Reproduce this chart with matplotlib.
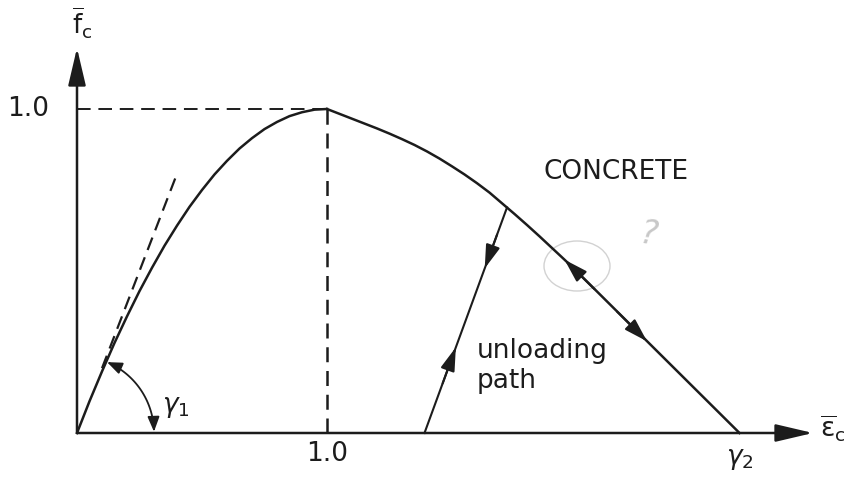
import numpy as np
import matplotlib.pyplot as plt
from matplotlib.patches import FancyArrowPatch, Ellipse
from matplotlib.path import Path

# normalised stress-strain curve for concrete
asc_strain = [0.0, 0.05, 0.1, 0.15, 0.2, 0.25, 0.3, 0.35, 0.4, 0.45, 0.5,
              0.55, 0.6, 0.65, 0.7, 0.75, 0.8, 0.85, 0.9, 0.95, 1.0]
asc_stress = [0.0, 0.098, 0.19, 0.278, 0.36, 0.438, 0.51, 0.578, 0.64, 0.698, 0.75,
              0.798, 0.84, 0.878, 0.91, 0.938, 0.96, 0.978, 0.99, 0.998, 1.0]
desc_strain = [1.0, 1.05, 1.1, 1.15, 1.2, 1.25, 1.3, 1.35, 1.4, 1.45, 1.5, 1.55,
               1.6, 1.65, 1.7, 1.75, 1.8, 1.85, 1.9, 1.95, 2.0, 2.65]
desc_stress = [1.0, 0.985, 0.97, 0.955, 0.94, 0.924, 0.907, 0.889, 0.869, 0.847, 0.823, 0.798,
               0.771, 0.742, 0.709, 0.676, 0.642, 0.607, 0.571, 0.535, 0.498, 0.0]
unload_strain = [1.72, 1.39]
unload_stress = [0.696, 0.0]
tangent_strain = [0.1, 0.4]
tangent_stress = [0.2, 0.8]
peak_strain, peak_stress = 1.0, 1.0
gamma2 = 2.65

ink = '#1c1c1c'
PX, PY = 250.0, 324.0   # pixels per unit along x / y

fig = plt.figure(figsize=(8.56, 4.79), dpi=100)
ax = fig.add_axes([0, 0, 1, 1])
ax.set_xlim(-77 / PX, (856 - 77) / PX)
ax.set_ylim(-46 / PY, 433 / PY)
ax.axis('off')


def arrow(tip, tail, length=0.72, width=0.22, lw=1.5):
    ax.annotate('', xy=tip, xytext=tail,
                arrowprops=dict(arrowstyle=f'-|>,head_length={length},head_width={width}',
                                mutation_scale=20, lw=lw, color=ink,
                                shrinkA=0, shrinkB=0))


# axes with arrowheads
arrow((0, 385 / PY), (0, 0), length=1.15, width=0.27, lw=1.8)
arrow((736 / PX, 0), (0, 0), length=1.15, width=0.27, lw=1.8)

# dashed guides to the peak and the initial tangent
ax.plot([0, peak_strain], [peak_stress, peak_stress], '--', color=ink, lw=1.4, dashes=(7, 4))
ax.plot([peak_strain, peak_strain], [0, peak_stress], '--', color=ink, lw=1.8, dashes=(6, 3.5))
ax.plot(tangent_strain, tangent_stress, '--', color=ink, lw=1.6, dashes=(6, 3.5))

# envelope curve
ax.plot(asc_strain, asc_stress, color=ink, lw=1.8, solid_joinstyle='round')
ax.plot(desc_strain, desc_stress, color=ink, lw=1.8, solid_joinstyle='round')

# unloading path
ax.plot(unload_strain, unload_stress, color=ink, lw=1.5)


def on_unload(t):
    return (unload_strain[0] + t * (unload_strain[1] - unload_strain[0]),
            unload_stress[0] + t * (unload_stress[1] - unload_stress[0]))


arrow(on_unload(0.27), on_unload(0.12))
arrow(on_unload(0.62), on_unload(0.78))

# arrows along the softening branch
arrow((1.95, 0.535), (2.07, 0.444))
arrow((2.28, 0.283), (2.16, 0.375))

# angle gamma_1 between the axis and the initial tangent
theta = np.linspace(np.deg2rad(1), np.deg2rad(67), 40)
r = 77
verts = np.column_stack([r * np.cos(theta) / PX, r * np.sin(theta) / PY])
arc = FancyArrowPatch(path=Path(verts), arrowstyle='<|-|>,head_length=0.45,head_width=0.18',
                      mutation_scale=20, lw=1.3, color=ink)
ax.add_patch(arc)

# pencil marks
ax.add_patch(Ellipse((500 / PX, 167 / PY), 66 / PX, 50 / PY, fill=False,
                     color='#d2d2d2', lw=1.0))
ax.text(572 / PX, 198 / PY, '?', fontsize=24, color='#c8c8c8', style='italic',
        ha='center', va='center', rotation=-8)

# labels
fs = 19
ax.text(-49 / PX, peak_stress, '1.0', fontsize=fs, ha='center', va='center', color=ink)
ax.text(peak_strain, -21 / PY, '1.0', fontsize=fs, ha='center', va='center', color=ink)
ax.text(gamma2, -26 / PY, r'$\gamma_2$', fontsize=fs, ha='center', va='center', color=ink)
ax.text(85 / PX, 26 / PY, r'$\gamma_1$', fontsize=fs, ha='left', va='center', color=ink)
ax.text(743 / PX, 4 / PY, r'$\overline{\mathrm{\epsilon}}_{\mathrm{c}}$', fontsize=fs,
        ha='left', va='center', color=ink)
ax.text(-5 / PX, 410 / PY, r'$\overline{\mathrm{f}}_{\mathrm{c}}$', fontsize=fs,
        ha='left', va='center', color=ink)
ax.text(539 / PX, 261 / PY, 'CONCRETE', fontsize=fs, ha='center', va='center', color=ink)
ax.text(400 / PX, 67 / PY, 'unloading\npath', fontsize=fs, ha='left', va='center',
        color=ink, linespacing=1.2)

fig.savefig('out.png', dpi=100, facecolor='white')
